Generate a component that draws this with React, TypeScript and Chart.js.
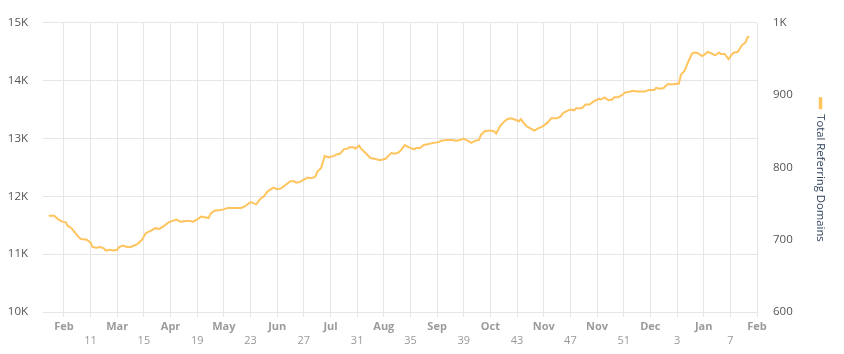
import React, { useEffect, useRef } from "react";
import { Chart, registerables } from "chart.js";

Chart.register(...registerables);

// x positions in days from the first "Feb" tick (ticks every 14 days)
const days = [
  -8, -5, -3, -1, 1, 2, 4, 6, 8, 9, 12, 14, 15, 17, 19, 21, 22, 24, 26, 28,
  29, 31, 33, 35, 37, 39, 41, 43, 46, 48, 50, 52, 55, 57, 59, 61, 64, 66, 68, 70,
  72, 74, 76, 77, 79, 82, 84, 86, 89, 93, 95, 98, 99, 101, 103, 105, 107, 110, 112, 114,
  117, 119, 121, 122, 124, 126, 128, 130, 132, 133, 135, 137, 139, 142, 143, 145, 147, 149, 150, 152,
  153, 155, 156, 158, 161, 163, 166, 169, 170, 172, 174, 176, 177, 179, 181, 184, 185, 187, 189, 191,
  194, 197, 198, 201, 204, 206, 208, 210, 212, 214, 216, 218, 219, 221, 224, 226, 227, 229, 231, 233,
  235, 237, 239, 240, 241, 243, 245, 247, 249, 251, 253, 254, 256, 259, 261, 262, 264, 266, 268, 269,
  272, 274, 276, 278, 281, 282, 284, 286, 288, 289, 291, 293, 295, 296, 299, 301, 303, 305, 307, 310,
  311, 313, 315, 317, 320, 323, 324, 326, 328, 330, 331, 333, 335, 337, 338, 340, 342, 344, 345, 347,
  349, 351, 352, 354, 356, 358, 359, 360,
];

const referringDomains = [
  733, 733, 728, 725, 724, 719, 716, 709, 703, 701, 700, 696, 690, 689, 690, 688, 685, 686, 685, 686,
  690, 692, 690, 690, 692, 695, 700, 709, 713, 716, 715, 718, 724, 726, 728, 725, 726, 726, 725, 728,
  732, 731, 730, 736, 740, 741, 742, 744, 744, 744, 746, 752, 751, 749, 756, 760, 767, 772, 770, 771,
  777, 781, 781, 779, 780, 783, 786, 785, 787, 794, 799, 816, 814, 816, 818, 819, 825, 826, 828, 828,
  826, 830, 826, 821, 813, 812, 810, 812, 815, 820, 819, 821, 824, 831, 828, 825, 827, 827, 831, 832,
  834, 835, 837, 838, 838, 837, 838, 840, 837, 834, 837, 838, 845, 850, 851, 850, 847, 857, 863, 867,
  868, 866, 864, 867, 863, 857, 854, 851, 854, 856, 860, 862, 868, 868, 871, 875, 878, 880, 879, 882,
  882, 887, 887, 891, 895, 894, 897, 893, 894, 897, 897, 900, 904, 904, 906, 905, 905, 905, 907, 907,
  910, 909, 910, 915, 915, 916, 928, 934, 947, 958, 959, 958, 954, 957, 960, 958, 955, 959, 957, 957,
  950, 957, 959, 960, 969, 973, 980, 981,
];

const xTickLabels = [
  "Feb", "11", "Mar", "15", "Apr", "19", "May", "23", "Jun", "27", "Jul", "31", "Aug", "35",
  "Sep", "39", "Oct", "43", "Nov", "47", "Nov", "51", "Dec", "3", "Jan", "7", "Feb",
];

const leftTicks = [10000, 11000, 12000, 13000, 14000, 15000];
const rightTicks = [600, 700, 800, 900, 1000];

const seriesLabel = "Total Referring Domains";
const lineColor = "#ffc45e";

const verticalLegend = {
  id: "verticalLegend",
  afterDraw(chart: any) {
    const { ctx, chartArea } = chart;
    const x = chart.width - 23.5;
    ctx.save();
    const fontSize = 11.3;
    ctx.font = `${fontSize}px "Open Sans", sans-serif`;
    const tw = ctx.measureText(seriesLabel).width;
    const barH = 12;
    const gap = 5;
    const total = barH + gap + tw;
    const start = (chartArea.top + chartArea.bottom) / 2 - total / 2 + 2;
    ctx.fillStyle = lineColor;
    ctx.fillRect(x - 1.75, start, 3.5, barH);
    ctx.translate(x, start + barH + gap);
    ctx.rotate(Math.PI / 2);
    ctx.fillStyle = "#2c3e5a";
    ctx.textAlign = "left";
    ctx.textBaseline = "middle";
    ctx.fillText(seriesLabel, 0, 0);
    ctx.restore();
  },
};

export default function App() {
  const ref = useRef<HTMLCanvasElement | null>(null);

  useEffect(() => {
    document.body.style.margin = "0";
    if (!ref.current) return;
    const chart = new Chart(ref.current, {
      type: "line",
      data: {
        datasets: [
          {
            label: seriesLabel,
            data: days.map((d, i) => ({ x: d, y: referringDomains[i] })),
            borderColor: lineColor,
            backgroundColor: lineColor,
            borderWidth: 2,
            pointRadius: 0,
            tension: 0,
            yAxisID: "y1",
          },
        ],
      },
      options: {
        animation: false,
        responsive: false,
        maintainAspectRatio: false,
        layout: { padding: { top: 19, left: 0, right: 0, bottom: 0 } },
        plugins: { legend: { display: false }, tooltip: { enabled: false } },
        scales: {
          x: {
            type: "linear",
            min: -11,
            max: (xTickLabels.length - 1) * 14,
            afterBuildTicks: (scale: any) => {
              scale.ticks = xTickLabels.map((_, i) => ({ value: i * 14 }));
            },
            afterFit: (scale: any) => {
              scale.height = 42;
            },
            grid: { color: "#e6e6e6", drawTicks: true, tickLength: 5, tickColor: "#e6e6e6" },
            border: { display: false },
            ticks: {
              autoSkip: false,
              maxRotation: 0,
              padding: 2,
              color: (c: any) => (c.index % 2 === 0 ? "#9b9b9b" : "#999999"),
              font: (c: any) => ({
                family: '"Open Sans", sans-serif',
                size: 11,
                weight: c.index % 2 === 0 ? "bold" : "normal",
                lineHeight: 1.35,
              }),
              callback: (_v: any, i: number) =>
                i % 2 === 0 ? [xTickLabels[i], ""] : ["", xTickLabels[i]],
            },
          },
          y: {
            type: "linear",
            position: "left",
            min: leftTicks[0],
            max: leftTicks[leftTicks.length - 1],
            afterBuildTicks: (scale: any) => {
              scale.ticks = leftTicks.map((v) => ({ value: v }));
            },
            afterFit: (scale: any) => {
              scale.width = 43;
            },
            grid: { color: "#e6e6e6", drawTicks: false },
            border: { display: false },
            ticks: {
              padding: 15,
              color: "#555555",
              font: { family: '"Open Sans", sans-serif', size: 11.5 },
              callback: (v: any) => `${Number(v) / 1000}K`,
            },
          },
          y1: {
            type: "linear",
            position: "right",
            min: rightTicks[0],
            max: rightTicks[rightTicks.length - 1],
            afterBuildTicks: (scale: any) => {
              scale.ticks = rightTicks.map((v) => ({ value: v }));
            },
            afterFit: (scale: any) => {
              scale.width = 87;
            },
            grid: { display: false, drawTicks: false },
            border: { display: false },
            ticks: {
              padding: 16,
              color: "#555555",
              font: { family: '"Open Sans", sans-serif', size: 11.5 },
              callback: (v: any) => (Number(v) >= 1000 ? `${Number(v) / 1000}K` : `${v}`),
            },
          },
        },
      },
      plugins: [verticalLegend],
    });
    return () => chart.destroy();
  }, []);

  return (
    <div style={{ width: 844, height: 354 }}>
      <canvas ref={ref} width={844} height={354} style={{ width: 844, height: 354, display: "block" }} />
    </div>
  );
}
